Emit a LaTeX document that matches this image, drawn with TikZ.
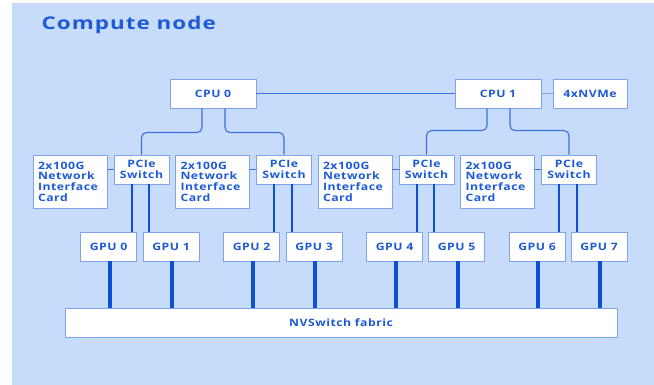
\documentclass[tikz,border=0pt]{standalone}
\usepackage{fontspec}
\setmainfont{Open Sans}
\newfontfamily\boxfont[FakeStretch=1.2, LetterSpace=5]{Open Sans}
\newfontfamily\headfont[FakeStretch=1.28, LetterSpace=6]{Open Sans}
\usetikzlibrary{calc}
\definecolor{panel}{HTML}{C6DCFA}
\definecolor{boxline}{HTML}{7FA3EC}
\definecolor{wire}{HTML}{3C6FE0}
\definecolor{bus}{HTML}{0F4FD8}
\definecolor{ink}{HTML}{1D5AD8}
\tikzset{
  unit/.style={draw=boxline, line width=0.9pt, fill=white, text=ink,
    font=\boxfont\fontsize{10.2}{10.7}\selectfont\bfseries, inner sep=0pt, align=center,
    minimum height=29pt},
  nic/.style={unit, align=left, minimum width=74pt, minimum height=53pt,
    text width=64pt},
  link/.style={draw=wire, line width=1.1pt},
  lane/.style={draw=bus, line width=2pt},
  nvlink/.style={draw=bus, line width=4pt},
}
\begin{document}
\begin{tikzpicture}[x=1pt, y=-1pt]
  \useasboundingbox (0,0) rectangle (654,385);
  \fill[white] (0,0) rectangle (654,385);
  \fill[panel] (12,3) rectangle (654,385);

  \node[anchor=west, text=ink, font=\headfont\fontsize{17.5}{20}\selectfont\bfseries]
    (title) at (38,24.5) {Compute node};

  % processors and storage
  \node[unit, minimum width=86pt] (cpu0) at (213,93.5) {CPU 0};
  \node[unit, minimum width=86pt] (cpu1) at (498,93.5) {CPU 1};
  \node[unit, minimum width=74pt] (nvme) at (590,93.5) {4xNVMe};

  % network cards and PCIe switches
  \foreach \i/\nx/\px in {1/70/141.5, 2/212.5/284, 3/355/426.5, 4/497.5/569} {
    \node[nic] (nic\i) at (\nx,181.5) {2x100G\\Network\\Interface\\Card};
    \node[unit, minimum width=55pt] (pcie\i) at (\px,169.5) {PCIe\\Switch};
  }

  % GPUs
  \foreach \g/\gx in {0/108.5, 1/171, 2/251.5, 3/314, 4/394.5, 5/456.5, 6/537, 7/599} {
    \node[unit, minimum width=56pt] (gpu\g) at (\gx,246.5) {GPU \g};
  }

  % NVSwitch
  \node[unit, minimum width=552pt] (nvs) at (341,322.5) {NVSwitch fabric};

  % CPU interconnect and storage link
  \draw[link] (cpu0.east) -- (cpu1.west);
  \draw[link, draw=boxline] (cpu1.east) -- (nvme.west);

  % CPU to PCIe switches
  \draw[link, rounded corners=5pt] ([xshift=-11pt]cpu0.south) |- ($(pcie1.north)+(0,-22)$) -- (pcie1.north);
  \draw[link, rounded corners=5pt] ([xshift=12pt]cpu0.south) |- ($(pcie2.north)+(0,-22)$) -- (pcie2.north);
  \draw[link, rounded corners=5pt] ([xshift=-11pt]cpu1.south) |- ($(pcie3.north)+(0,-24)$) -- (pcie3.north);
  \draw[link, rounded corners=5pt] ([xshift=12pt]cpu1.south) |- ($(pcie4.north)+(0,-24)$) -- (pcie4.north);

  % NIC to switch
  \foreach \i in {1,...,4} {
    \draw[link] (pcie\i.west) -- (nic\i.east |- pcie\i.west);
  }

  % switch to GPU lanes
  \foreach \i/\a/\b in {1/0/1, 2/2/3, 3/4/5, 4/6/7} {
    \draw[lane] ([xshift=-10pt]pcie\i.south) -- ([xshift=-10pt]pcie\i.south |- gpu\a.north);
    \draw[lane] ([xshift=7.5pt]pcie\i.south) -- ([xshift=7.5pt]pcie\i.south |- gpu\b.north);
  }

  % GPU to NVSwitch
  \foreach \g in {0,...,7} {
    \draw[nvlink] ([xshift=1pt]gpu\g.south) -- ([xshift=1pt]gpu\g.south |- nvs.north);
  }
\end{tikzpicture}
\end{document}
